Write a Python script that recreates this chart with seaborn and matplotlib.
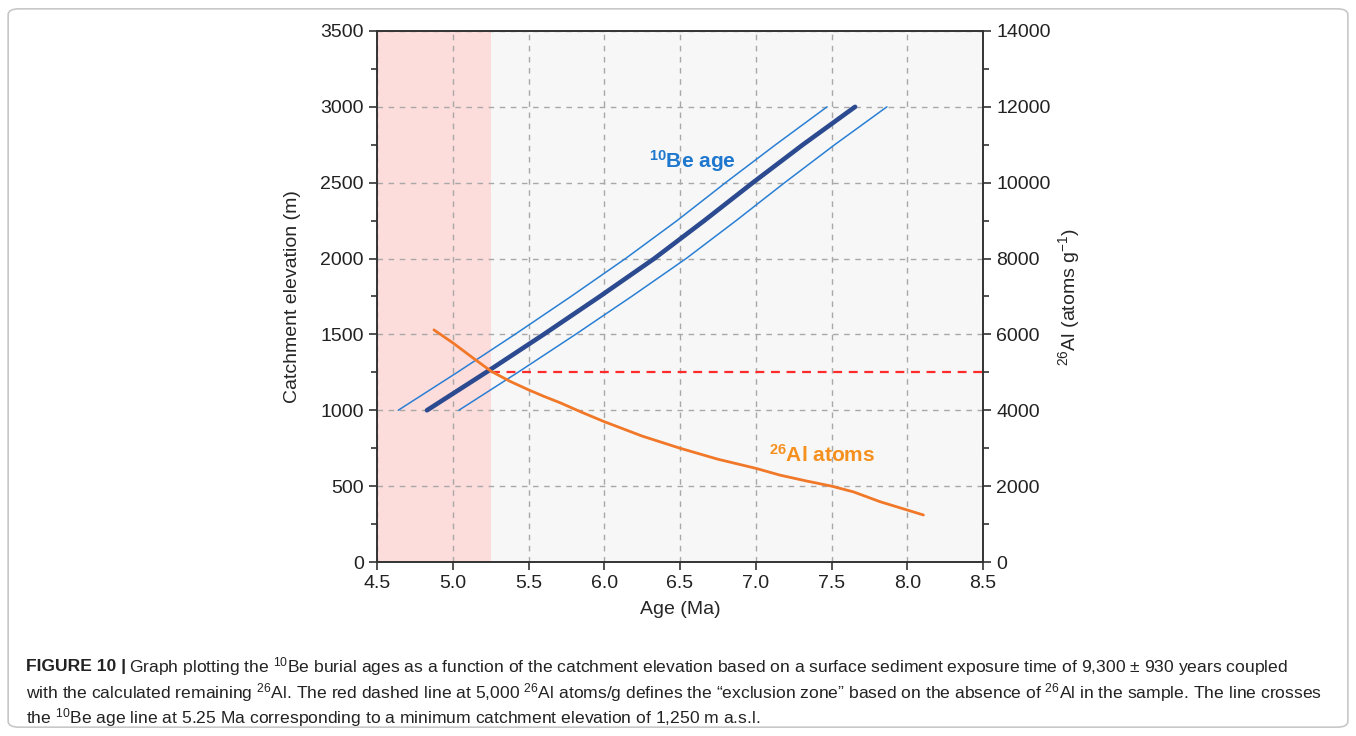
import matplotlib
matplotlib.use("Agg")
import matplotlib.pyplot as plt
import matplotlib.ticker as mticker
from matplotlib.patches import FancyBboxPatch
import pandas as pd
import seaborn as sns

sns.set_theme(style="ticks")
plt.rcParams['font.family'] = ['Liberation Sans', 'DejaVu Sans']
plt.rcParams['mathtext.fontset'] = 'custom'
plt.rcParams['mathtext.rm'] = 'Liberation Sans'
plt.rcParams['mathtext.it'] = 'Liberation Sans:italic'
plt.rcParams['mathtext.bf'] = 'Liberation Sans:bold'

# catchment elevation (m) vs 10Be burial age (Ma), with +/- envelope
elev = [1000, 1250, 1500, 1750, 2000, 2250, 2500, 2750, 3000]
be_age = [4.83, 5.22, 5.60, 5.97, 6.33, 6.66, 6.98, 7.31, 7.655]
be_age_lo = [4.64, 5.03, 5.41, 5.78, 6.14, 6.48, 6.80, 7.13, 7.47]
be_age_hi = [5.04, 5.43, 5.81, 6.18, 6.54, 6.87, 7.19, 7.52, 7.865]

# remaining 26Al (atoms/g) vs age (Ma)
al_age = [4.876, 5.0, 5.13, 5.257, 5.38, 5.5, 5.6, 5.708, 5.85, 6.0, 6.25, 6.5,
          6.75, 7.0, 7.16, 7.33, 7.5, 7.644, 7.82, 8.0, 8.106]
al_atoms = [6120, 5780, 5390, 5020, 4760, 4540, 4370, 4200, 3950, 3700, 3320, 3000,
            2710, 2470, 2290, 2140, 2000, 1850, 1590, 1370, 1240]

# exclusion zone
cutoff_atoms = 5000
cutoff_age = 5.25
xmin, xmax = 4.5, 8.5

be_df = pd.DataFrame({'elev': elev, 'age': be_age, 'lo': be_age_lo, 'hi': be_age_hi})
al_df = pd.DataFrame({'age': al_age, 'atoms': al_atoms})
cut_df = pd.DataFrame({'age': [cutoff_age, xmax], 'atoms': [cutoff_atoms, cutoff_atoms]})

fig = plt.figure(figsize=(13.56, 7.36), dpi=100)
ax = fig.add_axes([0.278, 0.2364, 0.447, 0.7215])
ax.set_facecolor('#f7f7f7')
ax.axvspan(xmin, cutoff_age, color='#fddcdc', lw=0, zorder=0)

sns.lineplot(data=be_df, x='lo', y='elev', ax=ax, color='#2a7fd4', lw=1.1, sort=False, estimator=None)
sns.lineplot(data=be_df, x='hi', y='elev', ax=ax, color='#2a7fd4', lw=1.1, sort=False, estimator=None)
sns.lineplot(data=be_df, x='age', y='elev', ax=ax, color='#2b4a90', lw=3.3, sort=False, estimator=None)

ax.set_xlim(xmin, xmax)
ax.set_ylim(0, 3500)
ax.xaxis.set_major_locator(mticker.MultipleLocator(0.5))
ax.yaxis.set_major_locator(mticker.MultipleLocator(500))
ax.yaxis.set_minor_locator(mticker.MultipleLocator(250))
ax.xaxis.set_major_formatter(mticker.FormatStrFormatter('%.1f'))
ax.grid(True, which='major', ls=(0, (4, 4)), color='#a8a8a8', lw=1)
ax.set_axisbelow(True)
ax.tick_params(which='major', direction='out', length=6, width=1.1, labelsize=14, colors='#222222')
ax.tick_params(which='minor', direction='out', length=4, width=1.1, colors='#222222')
ax.set_xlabel('Age (Ma)', fontsize=14, labelpad=6)
ax.set_ylabel('Catchment elevation (m)', fontsize=14, labelpad=14)

ax2 = ax.twinx()
sns.lineplot(data=cut_df, x='age', y='atoms', ax=ax2, color='#ff2a2a', lw=1.6, ls=(0, (4, 3)), estimator=None)
sns.lineplot(data=al_df, x='age', y='atoms', ax=ax2, color='#f07828', lw=2.0, estimator=None)
ax2.set_ylim(0, 14000)
ax2.set_xlim(xmin, xmax)
ax2.yaxis.set_major_locator(mticker.MultipleLocator(2000))
ax2.yaxis.set_minor_locator(mticker.MultipleLocator(1000))
ax2.tick_params(which='major', direction='out', length=6, width=1.1, labelsize=14, colors='#222222')
ax2.tick_params(which='minor', direction='out', length=4, width=1.1, colors='#222222')
ax2.set_ylabel('$^{26}$Al (atoms g$^{\\mathrm{-1}}$)', fontsize=14, labelpad=4)

for a in (ax, ax2):
    for s in a.spines.values():
        s.set_visible(True)
        s.set_color('#333333')
        s.set_linewidth(1.2)

ax.text(6.58, 2645, '$\\mathbf{^{10}}$Be age', color='#1f78cf', fontsize=15, fontweight='bold', ha='center', va='center')
ax2.text(7.44, 2820, '$\\mathbf{^{26}}$Al atoms', color='#f5901e', fontsize=15, fontweight='bold', ha='center', va='center')

# caption
fig.patches.append(FancyBboxPatch((0.006, 0.012), 0.988, 0.976,
                                  boxstyle='round,pad=0,rounding_size=0.008',
                                  transform=fig.transFigure, fill=False,
                                  ec='#c8c8c8', lw=1.2))
cap_size = 12.6
x0 = 26 / 1356
t = fig.text(x0, 1 - 667 / 736, 'FIGURE 10 |', fontsize=cap_size, fontweight='bold', va='center', color='#222222')
fig.canvas.draw()
bb = t.get_window_extent(fig.canvas.get_renderer())
fig.text(bb.x1 / fig.bbox.width + 0.002, 1 - 667 / 736,
         'Graph plotting the $^{10}$Be burial ages as a function of the catchment elevation based on a surface sediment exposure time of 9,300 ± 930 years coupled',
         fontsize=cap_size, va='center', color='#222222')
fig.text(x0, 1 - 693 / 736,
         'with the calculated remaining $^{26}$Al. The red dashed line at 5,000 $^{26}$Al atoms/g defines the \u201cexclusion zone\u201d based on the absence of $^{26}$Al in the sample. The line crosses',
         fontsize=cap_size, va='center', color='#222222')
fig.text(x0, 1 - 718 / 736,
         'the $^{10}$Be age line at 5.25 Ma corresponding to a minimum catchment elevation of 1,250 m a.s.l.',
         fontsize=cap_size, va='center', color='#222222')

fig.savefig('out.png', dpi=100)
